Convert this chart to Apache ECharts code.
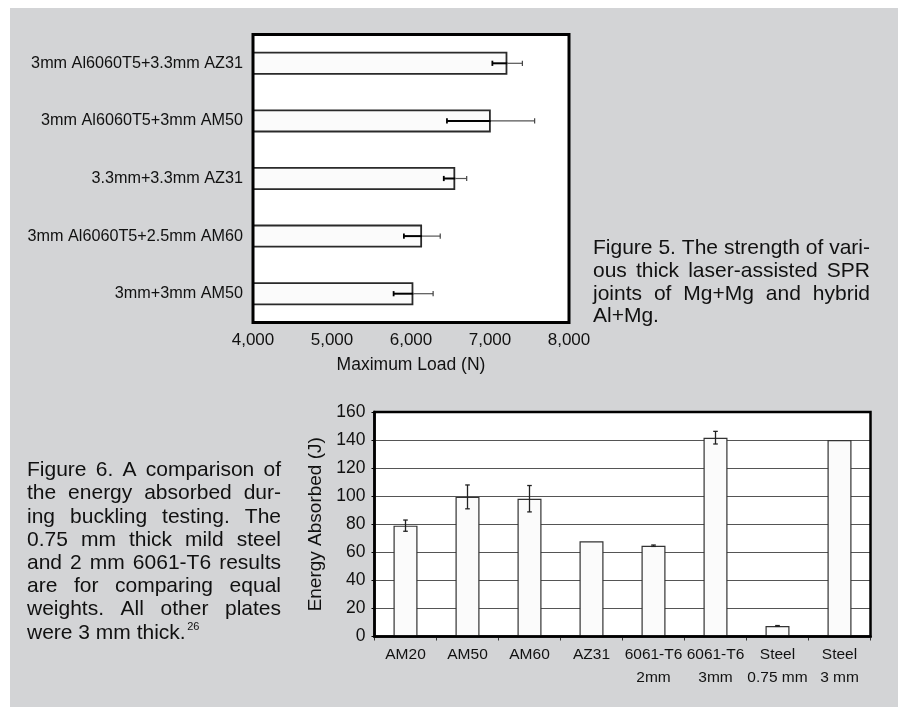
<!DOCTYPE html>
<html>
<head>
<meta charset="utf-8">
<script src="https://cdn.jsdelivr.net/npm/echarts@6/dist/echarts.min.js"></script>
<style>
html,body{margin:0;padding:0;background:#fff;}
#chart{width:904px;height:707px;}
</style>
</head>
<body>
<div id="chart"></div>
<script>
// ---------- Figure 5 data ----------
const loadCategories = ['3mm+3mm AM50', '3mm Al6060T5+2.5mm AM60', '3.3mm+3.3mm AZ31', '3mm Al6060T5+3mm AM50', '3mm Al6060T5+3.3mm AZ31'];
const loadValues = [6030, 6140, 6560, 7010, 7220];
const loadErrors = [250, 230, 145, 555, 190];
const loadAxisMin = 4000, loadAxisMax = 8000, loadAxisStep = 1000;
const loadAxisName = 'Maximum Load (N)';

// ---------- Figure 6 data ----------
const energyCategories = ['AM20', 'AM50', 'AM60', 'AZ31', '6061-T6\n2mm', '6061-T6\n3mm', 'Steel\n0.75 mm', 'Steel\n3 mm'];
const energyValues = [79, 99.5, 98.2, 67.8, 64.7, 141.7, 7.5, 140];
const energyErrors = [4, 8.5, 9.4, 0, 0.5, 4.5, 0.3, 0];
const energyAxisMin = 0, energyAxisMax = 160, energyAxisStep = 20;
const energyAxisName = 'Energy Absorbed (J)';

// ---------- captions ----------
const caption5 = ['Figure 5. The strength of vari-', 'ous thick laser-assisted SPR', 'joints of Mg+Mg and hybrid', 'Al+Mg.'];
const caption6 = ['Figure 6. A comparison of', 'the energy absorbed dur-', 'ing buckling testing. The', '0.75 mm thick mild steel', 'and 2 mm 6061-T6 results', 'are for comparing equal', 'weights. All other plates', 'were 3 mm thick.'];
const caption6Sup = '26';

// ---------- layout ----------
const W = 904, H = 707;
const REG = '"Liberation Sans", Arial, Helvetica, sans-serif';
const TXT = '#111';
const g1 = {left: 253, right: 335, top: 34.5, bottom: 707 - 322.5};
const g2 = {left: 374.5, right: 33.5, top: 412, bottom: 70.5};

const measureCtx = document.createElement('canvas').getContext('2d');
function textWidth(t, font) { measureCtx.font = font; return measureCtx.measureText(t).width; }

function justified(lines, left, width, firstY, gap, size) {
  const font = size + 'px ' + REG;
  const els = [];
  lines.forEach((line, i) => {
    const y = firstY + i * gap;
    const words = line.split(' ');
    const last = i === lines.length - 1;
    if (last || words.length < 2) {
      els.push({type: 'text', z: 20, style: {text: line, x: left, y: y, fill: TXT, font: font, align: 'left', verticalAlign: 'middle'}});
      return;
    }
    const ws = words.map(w => textWidth(w, font));
    const sum = ws.reduce((a, b) => a + b, 0);
    const sp = (width - sum) / (words.length - 1);
    let x = left;
    words.forEach((w, k) => {
      els.push({type: 'text', z: 20, style: {text: w, x: x, y: y, fill: TXT, font: font, align: 'left', verticalAlign: 'middle'}});
      x += ws[k] + sp;
    });
  });
  return els;
}

const capSize = 21;
const graphics = [
  {type: 'rect', z: -10, silent: true, shape: {x: 10, y: 8, width: 888, height: 699}, style: {fill: '#d3d4d6'}},
  {type: 'rect', z: 15, silent: true, shape: {x: g1.left, y: g1.top, width: W - g1.left - g1.right, height: H - g1.top - g1.bottom}, style: {fill: 'none', stroke: '#000', lineWidth: 3}},
  {type: 'rect', z: 15, silent: true, shape: {x: g2.left, y: g2.top, width: W - g2.left - g2.right, height: H - g2.top - g2.bottom}, style: {fill: 'none', stroke: '#000', lineWidth: 2.5}}
].concat(justified(caption5, 593, 277, 248.5, 22.7, capSize))
 .concat(justified(caption6, 27, 254, 470.5, 23.2, capSize));
const lastW = textWidth(caption6[caption6.length - 1], capSize + 'px ' + REG);
graphics.push({type: 'text', z: 20, style: {text: caption6Sup, x: 27 + lastW + 1.5, y: 627, fill: TXT, font: '11px ' + REG, align: 'left', verticalAlign: 'middle'}});

const chart = echarts.init(document.getElementById('chart'), null, {renderer: 'canvas'});
const option = {
  animation: false,
  backgroundColor: '#fff',
  graphic: graphics,
  grid: [
    Object.assign({show: true, backgroundColor: '#fff', borderWidth: 0, containLabel: false, outerBoundsMode: 'none'}, g1),
    Object.assign({show: true, backgroundColor: '#fff', borderWidth: 0, containLabel: false, outerBoundsMode: 'none'}, g2)
  ],
  xAxis: [
    {
      gridIndex: 0, type: 'value', min: loadAxisMin, max: loadAxisMax, interval: loadAxisStep,
      axisLine: {show: false}, axisTick: {show: false}, splitLine: {show: false},
      axisLabel: {color: TXT, fontFamily: REG, fontSize: 17, lineHeight: 22, margin: 6.5,
        formatter: v => v.toLocaleString('en-US')},
      name: loadAxisName, nameLocation: 'middle', nameGap: 32,
      nameTextStyle: {color: TXT, fontFamily: REG, fontSize: 17.5, lineHeight: 22}
    },
    {
      gridIndex: 1, type: 'category', data: energyCategories,
      axisLine: {show: true, lineStyle: {color: '#000', width: 2.5}},
      axisTick: {show: true, length: 4, lineStyle: {color: '#333', width: 1}},
      axisLabel: {color: TXT, fontFamily: REG, fontSize: 15.5, lineHeight: 23, margin: 7, interval: 0}
    }
  ],
  yAxis: [
    {
      gridIndex: 0, type: 'category', data: loadCategories,
      axisLine: {show: false}, axisTick: {show: false}, splitLine: {show: false},
      axisLabel: {color: TXT, fontFamily: REG, fontSize: 16.2, margin: 10}
    },
    {
      gridIndex: 1, type: 'value', min: energyAxisMin, max: energyAxisMax, interval: energyAxisStep,
      axisLine: {show: true, lineStyle: {color: '#000', width: 2.5}},
      axisTick: {show: true, length: 3, lineStyle: {color: '#000', width: 1}},
      splitLine: {show: true, lineStyle: {color: '#555', width: 1}},
      axisLabel: {color: TXT, fontFamily: REG, fontSize: 17.5, margin: 9},
      name: energyAxisName, nameLocation: 'middle', nameRotate: 90, nameGap: 28,
      nameTextStyle: {color: TXT, fontFamily: REG, fontSize: 19}
    }
  ],
  series: [
    {
      type: 'bar', xAxisIndex: 0, yAxisIndex: 0, data: loadValues, barWidth: 23,
      itemStyle: {color: '#fbfbfb', borderColor: '#2a2a2a', borderWidth: 1.8}, z: 3
    },
    {
      type: 'custom', xAxisIndex: 0, yAxisIndex: 0, clip: false, z: 5,
      data: loadValues.map((v, i) => [v, i, loadErrors[i]]),
      encode: {x: 0, y: 1},
      renderItem: function (params, api) {
        const v = api.value(0), i = api.value(1), e = api.value(2);
        const lo = api.coord([v - e, i]), mid = api.coord([v, i]), hi = api.coord([v + e, i]);
        const h = 2.6;
        return {type: 'group', children: [
          {type: 'line', shape: {x1: lo[0], y1: lo[1], x2: mid[0], y2: mid[1]}, style: {stroke: '#000', lineWidth: 2}},
          {type: 'line', shape: {x1: mid[0], y1: mid[1], x2: hi[0], y2: hi[1]}, style: {stroke: '#555', lineWidth: 1.2}},
          {type: 'line', shape: {x1: lo[0], y1: lo[1] - h, x2: lo[0], y2: lo[1] + h}, style: {stroke: '#000', lineWidth: 1.8}},
          {type: 'line', shape: {x1: hi[0], y1: hi[1] - h, x2: hi[0], y2: hi[1] + h}, style: {stroke: '#444', lineWidth: 1.2}}
        ]};
      }
    },
    {
      type: 'bar', xAxisIndex: 1, yAxisIndex: 1, data: energyValues, barWidth: 24,
      itemStyle: {color: '#fbfbfb', borderColor: '#333', borderWidth: 1.2}, z: 3
    },
    {
      type: 'custom', xAxisIndex: 1, yAxisIndex: 1, clip: false, z: 5,
      data: energyValues.map((v, i) => [i, v, energyErrors[i]]),
      encode: {x: 0, y: 1},
      renderItem: function (params, api) {
        const i = api.value(0), v = api.value(1), e = api.value(2);
        if (!e) return null;
        const lo = api.coord([i, v - e]), hi = api.coord([i, v + e]);
        const w = 2.3;
        return {type: 'group', children: [
          {type: 'line', shape: {x1: lo[0], y1: lo[1], x2: hi[0], y2: hi[1]}, style: {stroke: '#222', lineWidth: 1.3}},
          {type: 'line', shape: {x1: lo[0] - w, y1: lo[1], x2: lo[0] + w, y2: lo[1]}, style: {stroke: '#222', lineWidth: 1.3}},
          {type: 'line', shape: {x1: hi[0] - w, y1: hi[1], x2: hi[0] + w, y2: hi[1]}, style: {stroke: '#222', lineWidth: 1.3}}
        ]};
      }
    }
  ]
};
chart.setOption(option);
</script>
</body>
</html>
